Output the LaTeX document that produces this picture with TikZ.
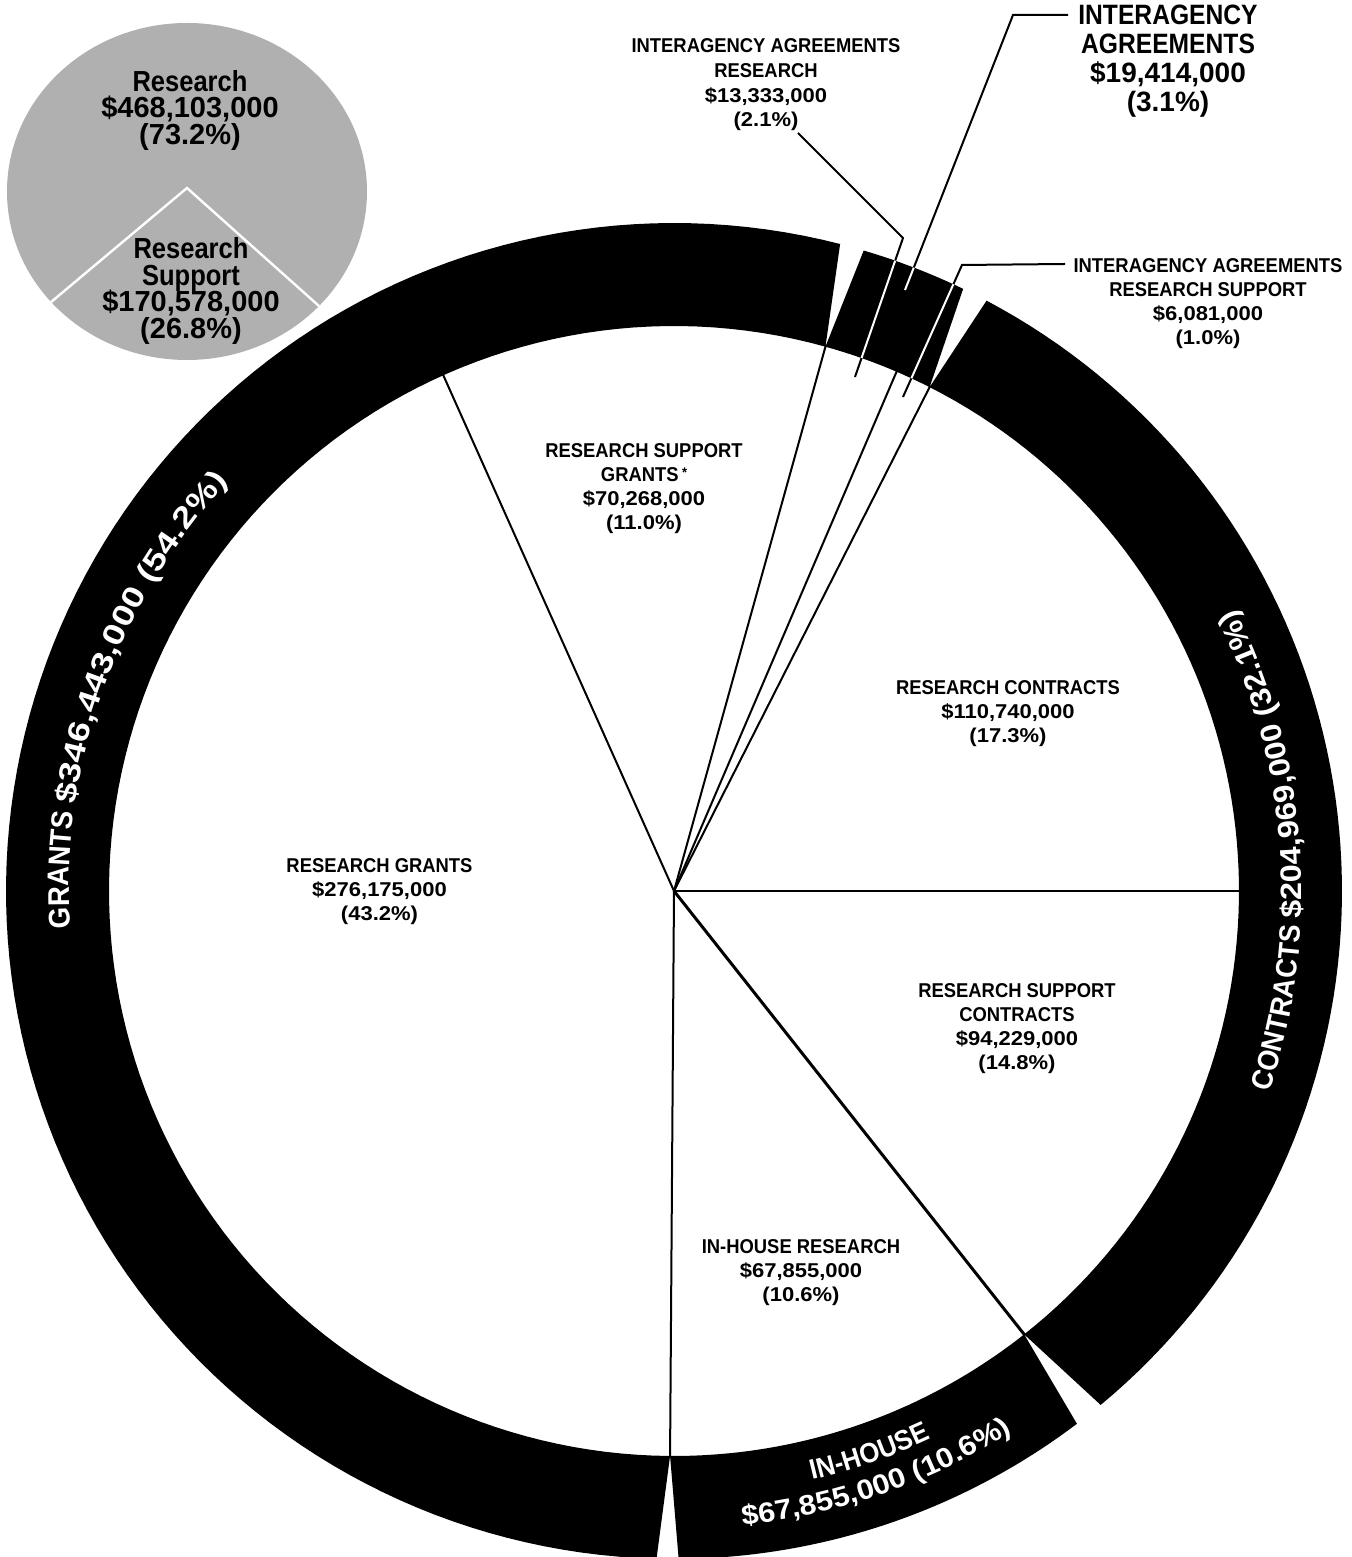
\documentclass[tikz,border=0pt]{standalone}
\usepackage{fontspec}
\usetikzlibrary{decorations.text}
\newfontfamily\fL[FakeStretch=0.92]{Liberation Sans Bold}
\newfontfamily\fK[FakeStretch=0.88]{Liberation Sans Bold}
\newfontfamily\fN[FakeStretch=1.1]{Liberation Sans Bold}
\newfontfamily\fR[FakeStretch=1.22]{Liberation Sans Bold}
\newfontfamily\fM{Liberation Sans Bold}
\begin{document}
\begin{tikzpicture}[x=0.5pt,y=0.5pt,
  lab/.style={align=center, inner sep=0pt, font={\fL\fontsize{10}{12}\selectfont\lineskiplimit=-20pt}},
  biglab/.style={align=center, inner sep=0pt, font={\fK\fontsize{14}{14.5}\selectfont\lineskiplimit=-20pt}},
  circlab/.style={align=center, inner sep=0pt, font={\fK\fontsize{14.5}{13.3}\selectfont\lineskiplimit=-20pt}},
  radial/.style={line width=1pt},
  leader/.style={line width=1pt, line join=miter},
  ringtext/.style={decorate, decoration={text along path, text align=center, text={#1}}}
]
\fill[white] (-674,-666) rectangle (677,891);
\useasboundingbox (-674,-666) rectangle (677,891);

% small summary circle
\coordinate (sc) at (-487,699.5);
\coordinate (apex) at (-487,703);
\fill[black!31] (sc) ellipse [x radius=90pt, y radius=84.25pt];
\begin{scope}
  \clip (sc) ellipse [x radius=90pt, y radius=84.25pt];
  \draw[white, line width=1.2pt] (-661,557) -- (apex) -- (-317,551);
\end{scope}
\node[circlab] (cres) at (-484,780.5) {Research\\\fM\$468,103,000\\\fM(73.2\%)};
\node[circlab] (csup) at (-483,600) {Research\\Support\\\fM\$170,578,000\\\fM(26.8\%)};

% outer ring segments
\fill[black]
  plot[domain=74.45:269.6,samples=120] (\x:565) -- plot[domain=268.5:75.6,samples=120] (\x:668) -- cycle
  plot[domain=269.6:308.3,samples=40] (\x:565) -- plot[domain=307.1:270.4,samples=40] (\x:668) -- cycle
  plot[domain=-51.7:63.1,samples=80] (\x:565) -- plot[domain=62.1:-50.3,samples=80] (\x:668) -- cycle
  plot[domain=63.1:74.45,samples=12] (\x:565) -- plot[domain=73.5:64.35,samples=12] (\x:668) -- cycle;

% pie slice boundaries
\coordinate (O) at (0,0);
\foreach \a in {0,63.1,66.8,74.45,114.1,269.6} \draw[radial] (O) -- (\a:566);
\draw[line width=1.5pt] (O) -- (308.3:566);

% slice labels
\node[lab] (rg) at (-294.5,-1) {RESEARCH GRANTS\\\fN\$276,175,000\\\fN(43.2\%)};
\node[lab] (rsg) at (-30,402) {RESEARCH SUPPORT\\GRANTS\,\raisebox{2pt}{\fontsize{7}{7}\selectfont*}\\\fN\$70,268,000\\\fN(11.0\%)};
\node[lab] (rc) at (334,177.5) {RESEARCH CONTRACTS\\\fN\$110,740,000\\\fN(17.3\%)};
\node[lab] (rsc) at (343,-137.5) {RESEARCH SUPPORT\\CONTRACTS\\\fN\$94,229,000\\\fN(14.8\%)};
\node[lab] (ihr) at (127,-382) {IN-HOUSE RESEARCH\\\fN\$67,855,000\\\fN(10.6\%)};
\node[lab, font={\fL\fontsize{10}{12.3}\selectfont\lineskiplimit=-20pt}] (iar) at (92,806) {INTERAGENCY AGREEMENTS\\RESEARCH\\\fN\$13,333,000\\\fN(2.1\%)};
\node[lab] (iars) at (534,587) {INTERAGENCY AGREEMENTS\\RESEARCH SUPPORT\\\fN\$6,081,000\\\fN(1.0\%)};
\node[biglab] (ia) at (494,830) {INTERAGENCY\\AGREEMENTS\\\fM\$19,414,000\\\fM(3.1\%)};

% leaders
\coordinate (iarA) at (124,758);
\coordinate (iarB) at (229,653);
\coordinate (iarC) at (181,514);
\coordinate (iaA) at (394,876);
\coordinate (iaB) at (339,876);
\coordinate (iaC) at (231,601);
\coordinate (iasA) at (391,627);
\coordinate (iasB) at (288,626);
\coordinate (iasC) at (229,494);
\draw[leader] (iarA) -- (iarB) -- (iarC);
\draw[leader] (iaA) -- (iaB) -- (iaC);
\draw[leader] (iasA) -- (iasB) -- (iasC);
\begin{scope}
  \clip
  plot[domain=74.45:269.6,samples=120] (\x:565) -- plot[domain=268.5:75.6,samples=120] (\x:668) -- cycle
  plot[domain=269.6:308.3,samples=40] (\x:565) -- plot[domain=307.1:270.4,samples=40] (\x:668) -- cycle
  plot[domain=-51.7:63.1,samples=80] (\x:565) -- plot[domain=62.1:-50.3,samples=80] (\x:668) -- cycle
  plot[domain=63.1:74.45,samples=12] (\x:565) -- plot[domain=73.5:64.35,samples=12] (\x:668) -- cycle;
  \draw[leader, white] (iarA) -- (iarB) -- (iarC);
  \draw[leader, white] (iaA) -- (iaB) -- (iaC);
  \draw[leader, white] (iasA) -- (iasB) -- (iasC);
\end{scope}

% ring texts
\path[ringtext={|\fL\fontsize{15}{16}\selectfont\color{white}|GRANTS |\fR\fontsize{15}{16}\selectfont\color{white}|{\$}346,443,000 (54.2{\%})}]
  (197:605) arc[start angle=197, end angle=124, radius=302.5pt];
\path[ringtext={|\fL\fontsize{14.7}{16}\selectfont\color{white}|CONTRACTS |\fN\fontsize{14.7}{16}\selectfont\color{white}|{\$}204,969,000 (32.1{\%})}]
  (-39.3:628) arc[start angle=-39.3, end angle=47.3, radius=314pt];
\path[ringtext={|\fL\fontsize{14}{16}\selectfont\color{white}|IN-HOUSE}]
  (260:605) arc[start angle=260, end angle=318.4, radius=302.5pt];
\path[ringtext={|\fN\fontsize{14}{16}\selectfont\color{white}|{\$}67,855,000 (10.6{\%})}]
  (255:638) arc[start angle=255, end angle=323.2, radius=319pt];
\end{tikzpicture}
\end{document}
